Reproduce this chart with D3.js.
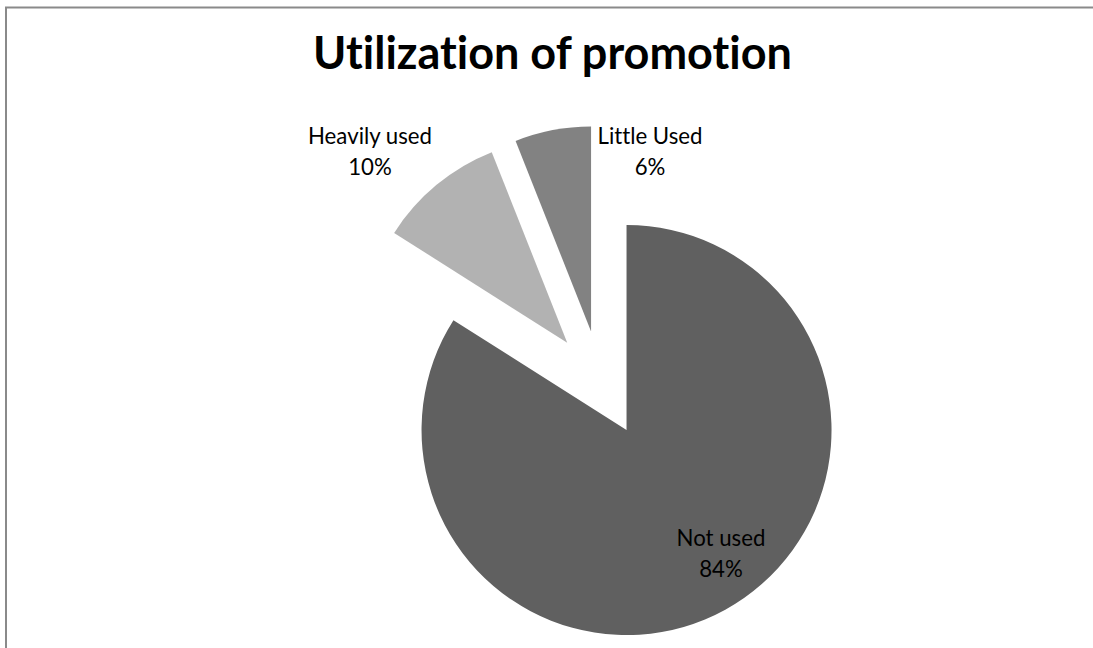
<!DOCTYPE html>
<html>
<head>
<meta charset="utf-8">
<script src="https://cdn.jsdelivr.net/npm/d3@7"></script>
<style>
  html, body { margin: 0; padding: 0; background: #fff; }
  svg { display: block; }
  text { font-family: Lato, "Open Sans", "DejaVu Sans", sans-serif; fill: #000;
         font-variant-ligatures: none; font-feature-settings: "liga" 0, "clig" 0; }
</style>
</head>
<body>
<svg id="chart" width="1093" height="648"></svg>
<script>
// Data
const categories = ["Not used", "Heavily used", "Little Used"];
const shares = [84, 10, 6];
const sliceColors = ["#606060", "#b2b2b2", "#828282"];
const chartTitle = "Utilization of promotion";

// Layout
const W = 1093, H = 648;
const center = { x: 601, y: 383.6 };
const radius = 205;
const explode = 53;
// label block positions (two lines: name, percent)
const labelCentres = {
  "Not used": { x: 721, y: 546 },
  "Heavily used": { x: 370, y: 144 },
  "Little Used": { x: 650, y: 144 }
};
const lineGap = 31;

const svg = d3.select("#chart");

// chart frame
svg.append("path")
  .attr("d", `M6,${H + 5} L6,7.6 L${W + 5},7.6`)
  .attr("fill", "none")
  .attr("stroke", "#8a8a8a")
  .attr("stroke-width", 2);

// title, fitted to its width
const title = svg.append("text")
  .attr("x", 552.5)
  .attr("y", 69)
  .attr("text-anchor", "middle")
  .style("font-weight", "bold")
  .style("font-size", "40px")
  .text(chartTitle);
const tw = title.node().getComputedTextLength();
title.style("font-size", (40 * 479 / tw) + "px");

// pie
const pie = d3.pie().sort(null).value(d => d.value).startAngle(0).endAngle(2 * Math.PI);
const data = categories.map((c, i) => ({ name: c, value: shares[i], color: sliceColors[i] }));
const arcs = pie(data);
const arc = d3.arc().innerRadius(0).outerRadius(radius);

const g = svg.append("g").attr("transform", `translate(${center.x},${center.y})`);
g.selectAll("path.slice")
  .data(arcs)
  .join("path")
  .attr("class", "slice")
  .attr("d", arc)
  .attr("fill", d => d.data.color)
  .attr("transform", d => {
    const mid = (d.startAngle + d.endAngle) / 2;
    return `translate(${explode * Math.sin(mid)},${-explode * Math.cos(mid)})`;
  });

// label font size fitted to "Heavily used"
const probe = svg.append("text").style("font-size", "24px").text("Heavily used");
const lw = probe.node().getComputedTextLength();
probe.remove();
const labelSize = 24 * 124 / lw;

const total = d3.sum(shares);
const labels = svg.append("g");
arcs.forEach(d => {
  const p = labelCentres[d.data.name];
  const t = labels.append("text")
    .attr("text-anchor", "middle")
    .style("font-size", labelSize + "px");
  t.append("tspan").attr("x", p.x).attr("y", p.y).text(d.data.name);
  t.append("tspan").attr("x", p.x).attr("y", p.y + lineGap)
    .text(Math.round(d.data.value / total * 100) + "%");
});
</script>
</body>
</html>
